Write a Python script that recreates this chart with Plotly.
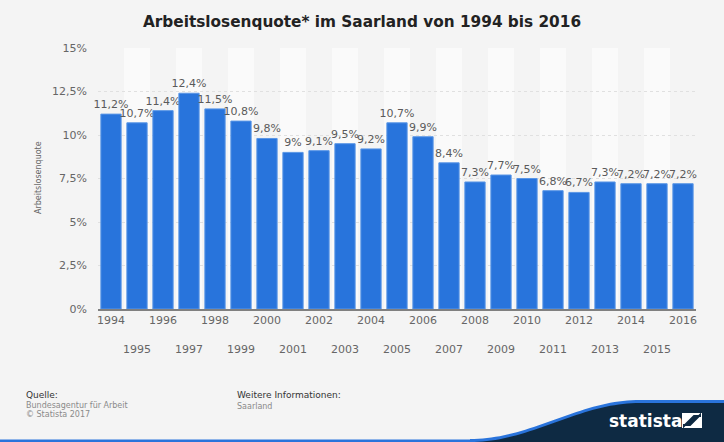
import math
import plotly.graph_objects as go

years = list(range(1994, 2017))
quote = [11.2, 10.7, 11.4, 12.4, 11.5, 10.8, 9.8, 9.0, 9.1, 9.5, 9.2, 10.7,
         9.9, 8.4, 7.3, 7.7, 7.5, 6.8, 6.7, 7.3, 7.2, 7.2, 7.2]
y_ticks = [0, 2.5, 5, 7.5, 10, 12.5, 15]
y_ticktext = ["0%", "2,5%", "5%", "7,5%", "10%", "12,5%", "15%"]


def fmt(v):
    s = ("%.1f" % v).rstrip("0").rstrip(".")
    return s.replace(".", ",") + "%"


labels = [fmt(v) for v in quote]
x_ticktext = [str(y) if (y % 2 == 0) else "<br><br>" + str(y) for y in years]

W, H = 724, 442
L, R, T, B = 98, 28, 48, 133
PW, PH = W - L - R, H - T - B


def px(x, y):
    return (x - L) / PW, (H - B - y) / PH


fig = go.Figure()
fig.add_trace(go.Bar(
    x=years, y=quote, text=labels, textposition="outside",
    texttemplate="%{text}", cliponaxis=False, constraintext="none",
    textfont=dict(family="DejaVu Sans", size=11, color="#5a5a5a"),
    marker=dict(color="#2874dc", line=dict(color="#5a96e6", width=1)),
    hoverinfo="skip",
))

shapes = []
for yr in years:
    if yr % 2 == 1:
        shapes.append(dict(type="rect", xref="x", yref="paper", x0=yr - 0.5, x1=yr + 0.5,
                           y0=0, y1=1, fillcolor="#fafafa", line=dict(width=0), layer="below"))


def path_from(points, close=True):
    s = ""
    for i, (a, b) in enumerate(points):
        xx, yy = px(a, b)
        s += ("M" if i == 0 else "L") + " %.5f,%.5f " % (xx, yy)
    return s + ("Z" if close else "")


wave = []
for i in range(0, 41):
    t = i / 40
    xx = 470 + t * 170
    yy = 442 - 39 * (0.5 - 0.5 * math.cos(math.pi * t))
    wave.append((xx, yy))
wave.append((730, 403))
blue_pts = [(p[0], p[1] - 3) for p in wave] + [(730, 445), (470, 445)]
dark_pts = wave + [(730, 445), (470, 445)]
x0, y0 = px(-5, 439.5)
x1, y1 = px(730, 445)
shapes.append(dict(type="rect", xref="paper", yref="paper", x0=x0, x1=x1, y0=y1, y1=y0,
                   fillcolor="#2a74dc", line=dict(width=0), layer="above"))
shapes.append(dict(type="path", xref="paper", yref="paper", path=path_from(blue_pts),
                   fillcolor="#2a74dc", line=dict(width=0), layer="above"))
shapes.append(dict(type="path", xref="paper", yref="paper", path=path_from(dark_pts),
                   fillcolor="#0e2a43", line=dict(width=0), layer="above"))
ix0, iy0 = px(682, 428)
ix1, iy1 = px(702, 413)
shapes.append(dict(type="rect", xref="paper", yref="paper", x0=ix0, x1=ix1, y0=iy0, y1=iy1,
                   fillcolor="#ffffff", line=dict(width=0), layer="above"))
shapes.append(dict(type="path", xref="paper", yref="paper",
                   path=path_from([(684, 426), (694, 416), (700, 416), (700, 415), (690, 425), (684, 425)]),
                   fillcolor="#0e2a43", line=dict(color="#0e2a43", width=2), layer="above"))

annotations = []


def txt(x, y, s, size, color, anchor="left", bold=False):
    xx, yy = px(x, y)
    annotations.append(dict(xref="paper", yref="paper", x=xx, y=yy, text=("<b>%s</b>" % s) if bold else s,
                            showarrow=False, xanchor=anchor, yanchor="middle",
                            font=dict(family="DejaVu Sans", size=size, color=color)))


txt(24, 395, "Quelle:", 9, "#333333")
txt(24, 405, "Bundesagentur für Arbeit", 8, "#8a8a8a")
txt(24, 415, "© Statista 2017", 8, "#8a8a8a")
txt(235, 395, "Weitere Informationen:", 9, "#333333")
txt(235, 406, "Saarland", 8, "#8a8a8a")
txt(645, 421, "statista", 17, "#ffffff", anchor="center", bold=True)
txt(38, 178, "Arbeitslosenquote", 8, "#666666", anchor="center")
annotations[-1]["textangle"] = -90

fig.update_layout(
    width=W, height=H,
    margin=dict(l=L, r=R, t=T, b=B, pad=0),
    paper_bgcolor="#f4f4f4", plot_bgcolor="#f4f4f4",
    showlegend=False, bargap=0.22,
    title=dict(text="<b>Arbeitslosenquote* im Saarland von 1994 bis 2016</b>",
               x=0.5, xref="container", xanchor="center", y=1 - 22 / H, yanchor="middle",
               font=dict(family="DejaVu Sans", size=15.3, color="#222222")),
    xaxis=dict(tickmode="array", tickvals=years, ticktext=x_ticktext,
               range=[1993.5, 2016.5], showgrid=False, zeroline=False,
               showline=True, linecolor="#808080", linewidth=1.5,
               ticks="", tickangle=0,
               tickfont=dict(family="DejaVu Sans", size=11, color="#666666")),
    yaxis=dict(tickmode="array", tickvals=y_ticks, ticktext=y_ticktext,
               range=[0, 15], showgrid=True, gridcolor="#e0e0e0", griddash="dot",
               gridwidth=1, zeroline=False, showline=False, ticks="",
               ticklabelstandoff=10,
               tickfont=dict(family="DejaVu Sans", size=11, color="#666666")),
    shapes=shapes, annotations=annotations,
)

fig.write_html("out.html", config={"displayModeBar": False},
               post_script="document.body.style.margin='0';document.body.style.background='#f4f4f4';")
